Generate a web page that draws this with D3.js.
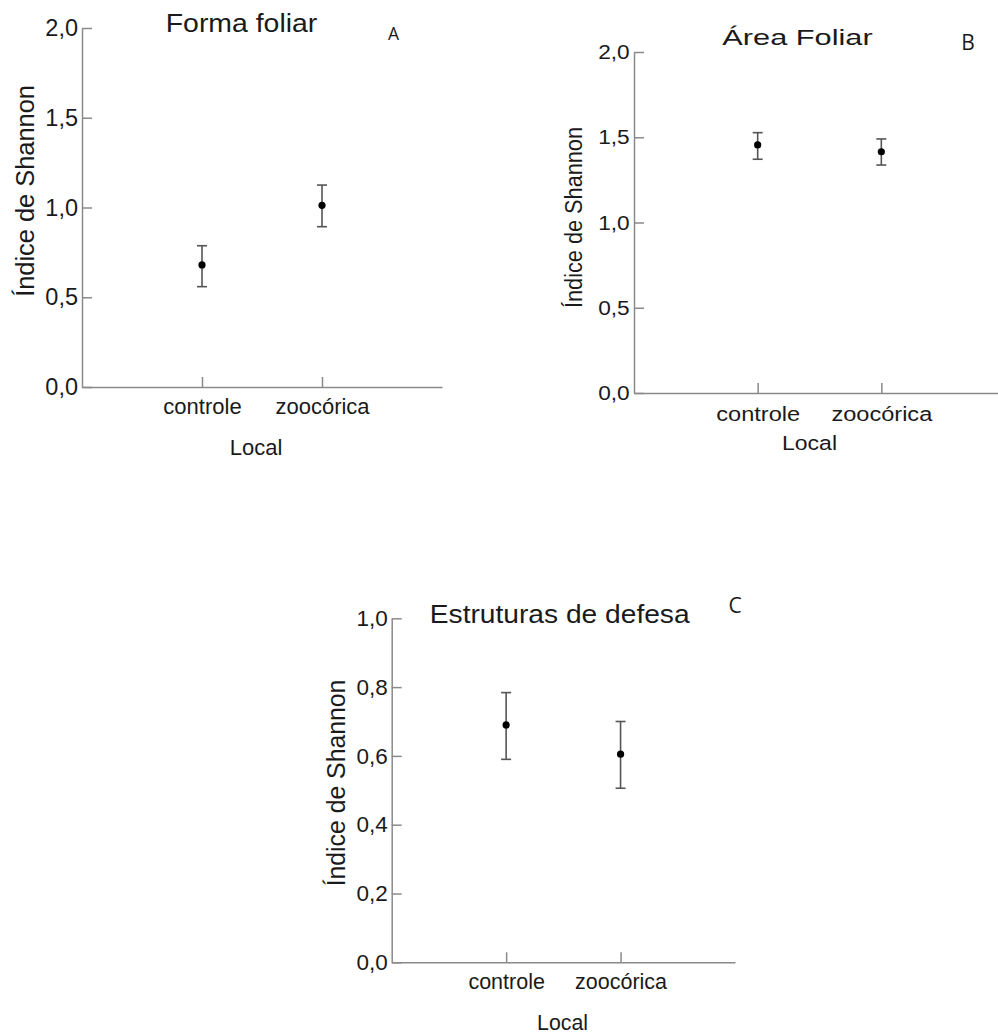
<!DOCTYPE html>
<html>
<head>
<meta charset="utf-8">
<script src="https://cdn.jsdelivr.net/npm/d3@7"></script>
<style>
  body { margin: 0; background: #fff; }
  svg { display: block; }
  .domain, .tick line { stroke: #8a8a8a; stroke-width: 1.5; }
</style>
</head>
<body>
<div id="chart"></div>
<script>
// data
var categories = ["controle", "zoocórica"];

var formaMean = [0.68, 1.012];
var formaLow  = [0.559, 0.893];
var formaHigh = [0.787, 1.125];

var areaMean = [1.455, 1.415];
var areaLow  = [1.371, 1.337];
var areaHigh = [1.527, 1.490];

var defesaMean = [0.690, 0.605];
var defesaLow  = [0.590, 0.506];
var defesaHigh = [0.784, 0.700];

var ticksAB = [0, 0.5, 1.0, 1.5, 2.0];
var ticksC  = [0, 0.2, 0.4, 0.6, 0.8, 1.0];

var W = 998, H = 1036;
var sans = "'Liberation Sans', Arial, Helvetica, sans-serif";
var letterFont = "'Open Sans', 'DejaVu Sans', sans-serif";

var svg = d3.select("#chart").append("svg")
    .attr("width", W)
    .attr("height", H);

function addText(x, y, str, size, sx, anchor, family, rot) {
    return svg.append("text")
        .attr("transform", "translate(" + x + "," + y + ") scale(" + sx + ",1)" + (rot ? " rotate(-90)" : ""))
        .attr("text-anchor", anchor)
        .style("font-family", family)
        .style("font-size", size + "px")
        .style("fill", "#1a1a1a")
        .text(str);
}

var comma = function(d){ return d3.format(".1f")(d).replace(".", ","); };

function drawPanel(p) {
    var x = d3.scalePoint().domain(categories).range([p.x0, p.x1]).padding(1);
    var y = d3.scaleLinear().domain([0, p.yMax]).range([p.yBottom, p.yTop]);

    // y axis, ticks pointing inward
    var gy = svg.append("g")
        .attr("transform", "translate(" + p.x0 + ",0)")
        .call(d3.axisLeft(y).tickValues(p.ticks).tickFormat(comma).tickSizeInner(-10).tickSizeOuter(0).tickPadding(4));
    gy.selectAll("text")
        .style("font-family", sans)
        .style("font-size", p.tickSize + "px")
        .style("fill", "#1a1a1a")
        .attr("transform", "scale(" + p.tickSx + ",1)");

    // x axis
    var gx = svg.append("g")
        .attr("transform", "translate(0," + p.yBottom + ")")
        .call(d3.axisBottom(x).tickSizeInner(-10).tickSizeOuter(0));
    gx.selectAll("text")
        .attr("y", p.catDy)
        .attr("dy", 0)
        .style("font-family", sans)
        .style("font-size", p.catSize + "px")
        .style("fill", "#1a1a1a")
        .attr("transform", "scale(" + p.catSx + ",1)");

    // error bars
    var rows = categories.map(function(c, i){
        return { cat: c, mean: p.mean[i], low: p.low[i], high: p.high[i] };
    });
    var eb = svg.append("g").selectAll("g").data(rows).enter().append("g");
    eb.append("line")
        .attr("x1", function(d){ return x(d.cat); })
        .attr("x2", function(d){ return x(d.cat); })
        .attr("y1", function(d){ return y(d.low); })
        .attr("y2", function(d){ return y(d.high); });
    eb.append("line")
        .attr("x1", function(d){ return x(d.cat) - 5; })
        .attr("x2", function(d){ return x(d.cat) + 5; })
        .attr("y1", function(d){ return y(d.high); })
        .attr("y2", function(d){ return y(d.high); });
    eb.append("line")
        .attr("x1", function(d){ return x(d.cat) - 5; })
        .attr("x2", function(d){ return x(d.cat) + 5; })
        .attr("y1", function(d){ return y(d.low); })
        .attr("y2", function(d){ return y(d.low); });
    eb.selectAll("line").style("stroke", "#555").style("stroke-width", 1.6);
    eb.append("circle")
        .attr("cx", function(d){ return x(d.cat); })
        .attr("cy", function(d){ return y(d.mean); })
        .attr("r", 3.6)
        .style("fill", "#000");

    // labels
    addText(p.title[0], p.title[1], p.title[2], p.title[3], p.title[4], "middle", sans);
    addText(p.letter[0], p.letter[1], p.letter[2], p.letter[3], 1, "middle", letterFont);
    addText(p.local[0], p.local[1], "Local", p.local[2], p.local[3], "middle", sans);
    addText(p.ylab[0], p.ylab[1], "Índice de Shannon", p.ylab[2], p.ylab[3], "middle", sans, true);
}

drawPanel({
    x0: 82, x1: 442, yTop: 28, yBottom: 387, yMax: 2, ticks: ticksAB,
    mean: formaMean, low: formaLow, high: formaHigh,
    tickSize: 23.5, tickSx: 1, catSize: 22, catSx: 1, catDy: 27,
    title: [241.5, 32, "Forma foliar", 25.6, 1.11],
    letter: [393.5, 40, "A", 17.5],
    local: [256, 455, 22, 1],
    ylab: [34, 191, 25.4, 1.02]
});

drawPanel({
    x0: 634, x1: 1005, yTop: 52, yBottom: 393, yMax: 2, ticks: ticksAB,
    mean: areaMean, low: areaLow, high: areaHigh,
    tickSize: 21, tickSx: 1.08, catSize: 19.5, catSx: 1.21, catDy: 28,
    title: [797.5, 45, "Área Foliar", 21.5, 1.43],
    letter: [968, 50, "B", 21],
    local: [809.5, 450, 19.5, 1.18],
    ylab: [582, 217.5, 21.7, 1.08]
});

drawPanel({
    x0: 391.7, x1: 735, yTop: 618.3, yBottom: 962.3, yMax: 1, ticks: ticksC,
    mean: defesaMean, low: defesaLow, high: defesaHigh,
    tickSize: 22.5, tickSx: 1, catSize: 21.5, catSx: 1, catDy: 26.7,
    title: [559.7, 623, "Estruturas de defesa", 25.6, 1.1],
    letter: [735, 613, "C", 21],
    local: [562.5, 1030, 21.3, 1],
    ylab: [345, 783, 24.8, 1.03]
});
</script>
</body>
</html>
